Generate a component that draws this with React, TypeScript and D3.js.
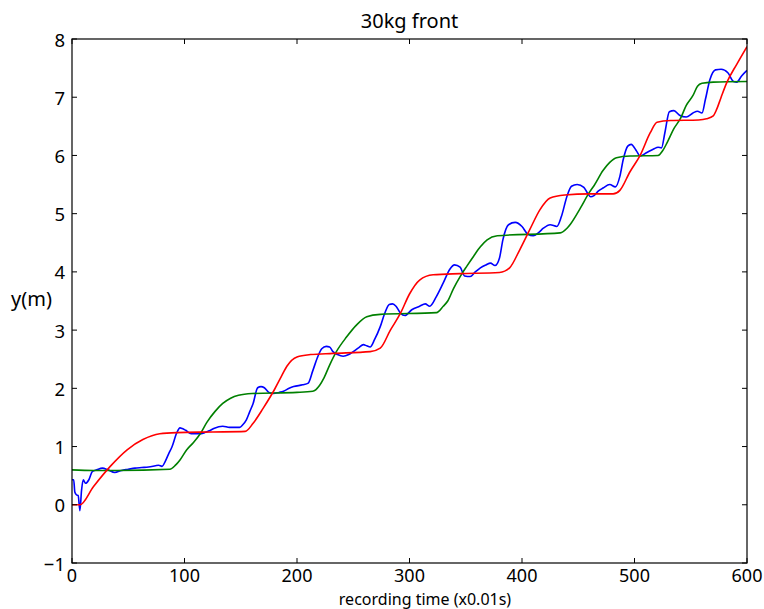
import React from "react";
import * as d3 from "d3";

const xTicks = [0, 100, 200, 300, 400, 500, 600];
const yTicks = [-1, 0, 1, 2, 3, 4, 5, 6, 7, 8];
const title = "30kg front";
const xLabel = "recording time (x0.01s)";
const yLabel = "y(m)";

const blueX = [0, 1.5, 2.5, 4, 5.5, 7, 8.5, 10, 12, 15, 18, 22, 27, 32, 38, 44, 50, 56, 62, 68, 74, 77, 80, 83, 86, 89, 93, 96, 98, 101, 106, 113, 118, 122, 126, 134, 140, 149, 152, 155, 158, 161, 165, 168, 171, 175, 179, 184, 188, 193, 197, 205, 210, 214, 218, 222, 226, 229, 232, 236, 241, 246, 250, 255, 259, 262, 265, 269, 274, 278, 282, 285, 288, 292, 296, 302, 309, 314, 318, 324, 330, 336, 340, 345, 349, 354, 358, 363, 368, 372, 376, 380, 383, 388, 394, 400, 405, 410, 415, 419, 425, 431, 435, 440, 444, 449, 455, 458, 461, 464, 468, 472, 478, 483, 487, 490, 494, 497, 502, 505, 511, 517, 521, 524, 527, 531, 535, 540, 546, 552, 556, 560, 563, 567, 572, 577, 583, 588, 591, 595, 600];
const blueY = [0.43, 0.43, 0.22, 0.17, 0.16, -0.1, 0.25, 0.43, 0.37, 0.43, 0.57, 0.6, 0.63, 0.6, 0.555, 0.59, 0.61, 0.63, 0.64, 0.65, 0.67, 0.68, 0.66, 0.75, 0.88, 1.0, 1.23, 1.32, 1.31, 1.28, 1.22, 1.22, 1.24, 1.27, 1.31, 1.35, 1.33, 1.33, 1.38, 1.46, 1.6, 1.74, 2.01, 2.03, 2.01, 1.93, 1.91, 1.93, 1.95, 2.0, 2.03, 2.06, 2.09, 2.3, 2.52, 2.68, 2.72, 2.71, 2.63, 2.58, 2.55, 2.58, 2.63, 2.7, 2.75, 2.73, 2.71, 2.84, 3.06, 3.29, 3.44, 3.45, 3.41, 3.29, 3.25, 3.35, 3.41, 3.45, 3.41, 3.58, 3.81, 4.05, 4.12, 4.08, 3.93, 3.92, 3.99, 4.07, 4.12, 4.15, 4.11, 4.24, 4.55, 4.81, 4.85, 4.78, 4.65, 4.62, 4.68, 4.75, 4.81, 4.78, 4.95, 5.3, 5.47, 5.5, 5.45, 5.36, 5.29, 5.31, 5.39, 5.44, 5.5, 5.46, 5.64, 5.93, 6.16, 6.19, 6.07, 5.99, 6.05, 6.11, 6.14, 6.13, 6.39, 6.75, 6.77, 6.69, 6.66, 6.73, 6.76, 6.73, 6.96, 7.3, 7.47, 7.48, 7.42, 7.27, 7.26, 7.36, 7.46];

const greenX = [0, 19, 40, 87, 92, 96, 102, 108, 114, 120, 127, 134, 141, 148, 160, 200, 214, 220, 224, 229, 235, 244, 253, 262, 274, 324, 330, 334, 339, 345, 351, 357, 363, 369, 378, 434, 440, 443, 452, 460, 464, 472, 478, 484, 496, 521, 525, 529, 535, 541, 546, 552, 556, 560, 570, 600];
const greenY = [0.6, 0.59, 0.59, 0.61, 0.68, 0.77, 0.945, 1.07, 1.22, 1.42, 1.6, 1.74, 1.83, 1.88, 1.91, 1.93, 1.95, 2.05, 2.18, 2.4, 2.63, 2.88, 3.09, 3.23, 3.27, 3.3, 3.41, 3.5, 3.71, 3.92, 4.1, 4.27, 4.43, 4.55, 4.62, 4.67, 4.75, 4.82, 5.1, 5.37, 5.48, 5.74, 5.88, 5.96, 5.99, 6.0, 6.08, 6.22, 6.46, 6.64, 6.86, 7.03, 7.19, 7.24, 7.26, 7.27];

const redX = [0, 7, 19, 34, 49, 63, 78, 93, 125, 154, 161, 170, 180, 186, 191, 200, 212, 232, 265, 274, 283, 292, 300, 309, 321, 345, 380, 389, 398, 407, 416, 425, 438, 460, 481, 487, 496, 505, 514, 520, 532, 557, 564, 570, 573, 577, 582, 591, 600];
const redY = [0, 0, 0.31, 0.66, 0.945, 1.12, 1.22, 1.24, 1.25, 1.26, 1.4, 1.66, 1.98, 2.2, 2.38, 2.54, 2.58, 2.6, 2.63, 2.69, 3.0, 3.29, 3.62, 3.86, 3.95, 3.97, 3.99, 4.07, 4.38, 4.73, 5.07, 5.27, 5.32, 5.34, 5.34, 5.4, 5.72, 6.0, 6.39, 6.57, 6.6, 6.61, 6.63, 6.68, 6.79, 7.0, 7.25, 7.57, 7.87];

const W = 764;
const H = 609;
const L = 72, R = 747, T = 39, B = 563;
const FONT = "'Noto Sans', 'Open Sans', sans-serif";

export default function App() {
  const x = d3.scaleLinear().domain([0, 600]).range([L, R]);
  const y = d3.scaleLinear().domain([-1, 8]).range([B, T]);
  const line = d3
    .line<[number, number]>()
    .x((d) => x(d[0]))
    .y((d) => y(d[1]))
    .curve(d3.curveMonotoneX);
  const mk = (xs: number[], ys: number[]) => line(xs.map((v, i) => [v, ys[i]] as [number, number])) || "";
  const series = [
    { d: mk(blueX, blueY), c: "#0000ff" },
    { d: mk(greenX, greenY), c: "#008000" },
    { d: mk(redX, redY), c: "#ff0000" },
  ];
  const tl = 5;
  return (
    <svg width={W} height={H} style={{ position: "absolute", left: 0, top: 0, background: "#fff" }} fontFamily={FONT}>
      <rect x={0} y={0} width={W} height={H} fill="#fff" />
      <defs>
        <clipPath id="plotclip">
          <rect x={L} y={T} width={R - L} height={B - T} />
        </clipPath>
      </defs>
      <g clipPath="url(#plotclip)">
        {series.map((s, i) => (
          <path key={i} d={s.d} fill="none" stroke={s.c} strokeWidth={1.6} strokeLinejoin="round" />
        ))}
      </g>
      <rect x={L} y={T} width={R - L} height={B - T} fill="none" stroke="#000" strokeWidth={1.2} />
      {xTicks.map((t) => (
        <g key={"x" + t}>
          <line x1={x(t)} x2={x(t)} y1={B} y2={B - tl} stroke="#000" />
          <line x1={x(t)} x2={x(t)} y1={T} y2={T + tl} stroke="#000" />
          <text x={x(t)} y={582} textAnchor="middle" fontSize={18} fill="#000">
            {t}
          </text>
        </g>
      ))}
      {yTicks.map((t) => (
        <g key={"y" + t}>
          <line x1={L} x2={L + tl} y1={y(t)} y2={y(t)} stroke="#000" />
          <line x1={R} x2={R - tl} y1={y(t)} y2={y(t)} stroke="#000" />
          <text x={65} y={y(t)} textAnchor="end" dominantBaseline="central" fontSize={18.5} fill="#000">
            {t < 0 ? "\u2212" + Math.abs(t) : t}
          </text>
        </g>
      ))}
      <text x={(L + R) / 2} y={28} textAnchor="middle" fontSize={20} fill="#000">
        {title}
      </text>
      <text x={11} y={298} dominantBaseline="central" fontSize={20} fill="#000">
        {yLabel}
      </text>
      <text x={425} y={605} textAnchor="middle" fontSize={16} fill="#000">
        {xLabel}
      </text>
    </svg>
  );
}
